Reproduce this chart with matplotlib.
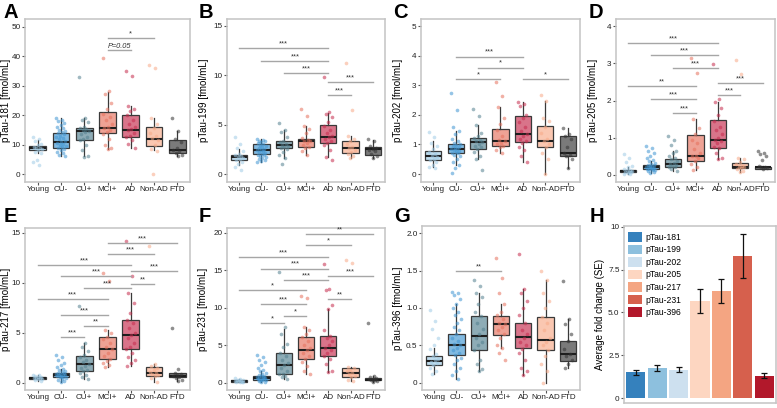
import numpy as np
import matplotlib.pyplot as plt
from matplotlib.colors import to_rgba
from matplotlib.patches import Patch

plt.rcParams['font.family'] = ['Liberation Sans', 'DejaVu Sans']

groups = ['Young', 'CU-', 'CU+', 'MCI+', 'AD', 'Non-AD', 'FTD']
group_colors = ['#9fcbe6', '#3f95d2', '#52808f', '#e6705c', '#c52a4c', '#f8a987', '#333333']

# box stats per group: (whisker low, q1, median, q3, whisker high)
box_181 = [(7, 8, 8.8, 9.6, 11.5), (6, 9, 11, 14, 19), (6, 11.5, 14.5, 15.7, 19),
           (8.5, 14, 15.5, 21, 28), (9, 12.5, 15, 20, 23), (8, 9.5, 12, 15.8, 19),
           (6, 7, 8, 11.5, 14.5)]
box_199 = [(0.9, 1.4, 1.7, 1.95, 2.5), (1.2, 2.0, 2.45, 3.0, 3.6), (1.6, 2.6, 2.9, 3.3, 4.5),
           (1.9, 2.7, 3.3, 3.6, 4.9), (1.7, 3.1, 3.8, 5.0, 6.2), (1.6, 2.1, 2.6, 3.4, 3.9),
           (1.6, 1.9, 2.5, 2.7, 3.5)]
box_202 = [(0.25, 0.48, 0.6, 0.78, 1.1), (0.3, 0.7, 0.83, 1.03, 1.45), (0.5, 0.85, 1.07, 1.23, 1.65),
           (0.7, 0.95, 1.1, 1.53, 2.28), (0.4, 1.08, 1.36, 1.97, 2.42), (0.0, 0.9, 1.1, 1.63, 2.48),
           (0.2, 0.6, 0.7, 1.3, 1.55)]
box_205 = [(0.02, 0.07, 0.1, 0.14, 0.2), (0.05, 0.15, 0.2, 0.26, 0.38), (0.1, 0.22, 0.3, 0.42, 0.65),
           (0.12, 0.37, 0.51, 1.08, 1.5), (0.42, 0.72, 0.95, 1.47, 1.95), (0.08, 0.18, 0.22, 0.32, 0.45),
           (0.15, 0.16, 0.2, 0.22, 0.25)]
box_217 = [(0.2, 0.4, 0.5, 0.6, 0.8), (0.1, 0.6, 0.8, 1.0, 1.4), (0.4, 1.2, 1.9, 2.7, 4.0),
           (1.6, 2.4, 3.4, 4.6, 5.3), (1.7, 3.4, 4.8, 6.3, 9.0), (0.05, 0.7, 1.0, 1.6, 1.9),
           (0.2, 0.55, 0.7, 0.95, 1.0)]
box_231 = [(0.05, 0.1, 0.2, 0.3, 0.5), (0.05, 0.3, 0.6, 0.9, 1.6), (0.5, 1.1, 2.4, 4.0, 7.1),
           (1.1, 3.2, 4.4, 6.1, 7.4), (1.4, 3.6, 4.6, 6.2, 9.8), (0.2, 0.7, 1.3, 1.9, 2.1),
           (0.1, 0.3, 0.4, 0.6, 0.9)]
box_396 = [(0.12, 0.24, 0.29, 0.35, 0.47), (0.05, 0.37, 0.5, 0.65, 1.05), (0.15, 0.43, 0.63, 0.89, 1.2),
           (0.47, 0.64, 0.79, 0.89, 1.05), (0.1, 0.47, 0.61, 0.8, 1.25), (0.0, 0.44, 0.57, 0.88, 1.38),
           (0.2, 0.29, 0.38, 0.56, 0.85)]

# individual points per group
pts_181 = [[12.5, 12, 11.2, 10.3, 9.8, 9.3, 9, 8.7, 8.4, 8.1, 7.6, 7, 4.6, 4.0, 3.0],
           [19, 18.5, 18, 17.2, 16.5, 16, 15.5, 15, 14.6, 14.2, 13.8, 13.5, 13, 12.5, 12.2, 11.8,
            11.3, 11, 10.7, 10.3, 10, 9.6, 9.2, 8.8, 8.4, 8, 7.5, 7, 6.5, 6.2],
           [33, 19, 18.3, 17.5, 16, 15.6, 15.2, 14.8, 14.5, 14.2, 13.5, 12.5, 11.8, 11.5, 10, 8.2, 6.2, 5.8],
           [39.5, 28.3, 27, 24, 22, 20.5, 19.5, 18.3, 17, 16, 15.5, 15, 14.2, 13.5, 12, 10, 9, 8.5],
           [35, 33.2, 23, 22, 21.5, 20, 18.5, 17, 16, 15.2, 14.8, 14, 13, 12.5, 11.5, 10.2, 9],
           [37, 36, 19, 17, 15.5, 14, 13, 12.2, 11.5, 10, 8.5, 7.8, 0],
           [19, 14.5, 12, 11, 9, 8.2, 7.8, 7, 6.5, 6]]
pts_199 = [[3.8, 3.0, 2.6, 2.3, 2.0, 1.9, 1.8, 1.7, 1.6, 1.5, 1.4, 1.2, 1.0, 0.7, 0.4],
           [3.6, 3.5, 3.4, 3.3, 3.2, 3.1, 3.0, 2.9, 2.8, 2.7, 2.6, 2.5, 2.45, 2.4, 2.3, 2.2, 2.1,
            2.0, 1.95, 1.9, 1.8, 1.7, 1.6, 1.5, 1.4, 1.3, 1.2],
           [5.2, 4.5, 4.3, 3.8, 3.4, 3.2, 3.0, 2.9, 2.85, 2.7, 2.6, 2.5, 2.2, 1.9, 1.6, 1.0],
           [6.6, 5.9, 4.9, 4.6, 4.2, 3.7, 3.5, 3.4, 3.3, 3.1, 2.9, 2.7, 2.6, 2.3, 1.9],
           [9.8, 6.3, 6.1, 5.8, 5.3, 4.9, 4.5, 4.2, 3.9, 3.8, 3.6, 3.4, 3.1, 2.9, 2.4, 1.7, 1.4],
           [11.2, 6.5, 3.9, 3.6, 3.3, 3.0, 2.7, 2.6, 2.4, 2.2, 2.0, 1.8, 1.6],
           [3.6, 3.3, 2.8, 2.6, 2.5, 2.4, 2.3, 2.0, 1.8, 1.6]]
pts_202 = [[1.42, 1.25, 1.05, 0.95, 0.85, 0.75, 0.68, 0.62, 0.58, 0.52, 0.48, 0.4, 0.3, 0.25, 0.2],
           [2.75, 2.15, 1.6, 1.45, 1.35, 1.2, 1.1, 1.05, 1.0, 0.98, 0.95, 0.9, 0.88, 0.85, 0.83, 0.8,
            0.78, 0.75, 0.72, 0.7, 0.65, 0.6, 0.5, 0.4, 0.3, 0.2, 0.05],
           [2.2, 1.95, 1.65, 1.4, 1.3, 1.22, 1.15, 1.1, 1.07, 1.0, 0.95, 0.9, 0.85, 0.75, 0.6, 0.5, 0.15],
           [3.1, 2.65, 2.28, 1.9, 1.7, 1.5, 1.3, 1.15, 1.1, 1.05, 1.0, 0.95, 0.9, 0.8, 0.7],
           [2.42, 2.38, 2.3, 2.0, 1.9, 1.75, 1.6, 1.45, 1.36, 1.3, 1.2, 1.1, 1.05, 0.9, 0.8, 0.6, 0.4],
           [2.68, 2.48, 1.9, 1.8, 1.6, 1.4, 1.2, 1.1, 1.0, 0.9, 0.7, 0.5, 0.0],
           [1.55, 1.35, 1.3, 1.2, 0.9, 0.7, 0.65, 0.6, 0.5, 0.2]]
pts_205 = [[0.55, 0.45, 0.35, 0.25, 0.2, 0.17, 0.14, 0.12, 0.1, 0.09, 0.08, 0.07, 0.05, 0.03, 0.02],
           [0.78, 0.72, 0.65, 0.58, 0.5, 0.45, 0.4, 0.37, 0.33, 0.3, 0.28, 0.26, 0.24, 0.22, 0.21,
            0.2, 0.19, 0.18, 0.17, 0.16, 0.15, 0.14, 0.12, 0.1, 0.08, 0.05],
           [1.05, 0.95, 0.8, 0.65, 0.6, 0.5, 0.45, 0.42, 0.38, 0.33, 0.3, 0.28, 0.25, 0.22, 0.2, 0.15, 0.1],
           [3.15, 2.75, 1.5, 1.25, 1.1, 0.95, 0.85, 0.7, 0.6, 0.52, 0.5, 0.45, 0.38, 0.3, 0.2, 0.12],
           [2.97, 2.05, 1.95, 1.8, 1.6, 1.45, 1.3, 1.2, 1.1, 1.0, 0.95, 0.9, 0.85, 0.75, 0.72, 0.6, 0.45, 0.42],
           [3.1, 2.7, 0.45, 0.42, 0.35, 0.3, 0.25, 0.22, 0.2, 0.18, 0.15, 0.1, 0.08],
           [0.65, 0.6, 0.55, 0.5, 0.4, 0.25, 0.22, 0.2, 0.18, 0.15]]
pts_217 = [[0.8, 0.75, 0.65, 0.6, 0.55, 0.5, 0.48, 0.45, 0.4, 0.35, 0.3, 0.2],
           [2.8, 2.6, 2.3, 2.0, 1.8, 1.6, 1.4, 1.3, 1.2, 1.1, 1.0, 0.95, 0.9, 0.85, 0.8, 0.78, 0.75,
            0.7, 0.65, 0.6, 0.55, 0.5, 0.4, 0.3, 0.2, 0.1],
           [7.7, 4.0, 3.6, 3.2, 2.8, 2.6, 2.3, 2.1, 1.9, 1.7, 1.5, 1.3, 1.2, 1.0, 0.8, 0.6, 0.4],
           [11.0, 10.2, 5.3, 5.0, 4.6, 4.4, 4.0, 3.6, 3.4, 3.0, 2.7, 2.4, 2.2, 2.0, 1.8, 1.6],
           [14.2, 10.7, 9.0, 8.0, 7.0, 6.3, 6.0, 5.5, 5.0, 4.8, 4.5, 4.0, 3.6, 3.4, 3.0, 2.6, 2.3, 2.0, 1.7],
           [13.7, 1.9, 1.7, 1.5, 1.3, 1.1, 1.0, 0.9, 0.8, 0.7, 0.5, 0.05],
           [5.5, 1.4, 1.0, 0.9, 0.8, 0.7, 0.6, 0.5, 0.3, 0.2]]
pts_231 = [[0.6, 0.5, 0.4, 0.35, 0.3, 0.25, 0.2, 0.18, 0.15, 0.12, 0.1, 0.05],
           [3.7, 3.4, 3.0, 2.7, 2.3, 2.0, 1.7, 1.5, 1.3, 1.1, 1.0, 0.9, 0.85, 0.8, 0.7, 0.65, 0.6,
            0.55, 0.5, 0.45, 0.4, 0.35, 0.3, 0.2, 0.1, 0.05],
           [14.7, 7.4, 6.5, 5.2, 4.8, 4.0, 3.5, 3.0, 2.6, 2.4, 2.0, 1.6, 1.2, 1.1, 0.9, 0.7, 0.5],
           [11.5, 11.3, 7.4, 7.0, 6.5, 6.1, 5.5, 5.0, 4.6, 4.4, 4.0, 3.5, 3.2, 2.8, 2.2, 1.6, 1.1],
           [15.8, 12.5, 12.4, 10.3, 9.8, 7.0, 6.2, 6.0, 5.5, 5.0, 4.6, 4.3, 4.0, 3.6, 3.2, 2.5, 1.5, 1.4],
           [16.3, 15.9, 2.1, 1.9, 1.7, 1.5, 1.3, 1.1, 0.9, 0.7, 0.4, 0.2],
           [8.0, 0.9, 0.7, 0.6, 0.5, 0.45, 0.4, 0.3, 0.2, 0.1]]
pts_396 = [[0.97, 0.82, 0.72, 0.6, 0.5, 0.45, 0.38, 0.35, 0.32, 0.3, 0.28, 0.26, 0.24, 0.2, 0.15, 0.12],
           [1.22, 1.2, 1.17, 1.12, 1.05, 1.0, 0.95, 0.9, 0.85, 0.8, 0.75, 0.7, 0.65, 0.6, 0.56, 0.52,
            0.5, 0.47, 0.44, 0.4, 0.37, 0.33, 0.3, 0.25, 0.2, 0.15, 0.1, 0.05],
           [1.38, 1.3, 1.2, 1.15, 1.05, 0.95, 0.89, 0.8, 0.72, 0.65, 0.6, 0.55, 0.5, 0.43, 0.3, 0.25, 0.18, 0.15],
           [1.67, 1.4, 1.2, 1.05, 0.95, 0.9, 0.85, 0.8, 0.78, 0.75, 0.7, 0.65, 0.6, 0.5, 0.47, 0.4, 0.3],
           [1.73, 1.25, 1.2, 1.1, 1.0, 0.9, 0.8, 0.7, 0.65, 0.6, 0.55, 0.5, 0.45, 0.4, 0.3, 0.2, 0.15, 0.1],
           [1.5, 1.38, 1.2, 1.1, 1.0, 0.88, 0.8, 0.7, 0.6, 0.55, 0.5, 0.44, 0.35, 0.25, 0.15, 0.0],
           [1.36, 0.85, 0.78, 0.65, 0.56, 0.45, 0.38, 0.35, 0.3, 0.25, 0.2]]

# significance brackets: (group from, group to, height, label)
sig_181 = [('MCI+', 'Non-AD', 46, '*'), ('MCI+', 'AD', 42, 'P=0.05')]
sig_199 = [('Young', 'AD', 12.8, '***'), ('CU-', 'AD', 11.4, '***'), ('CU+', 'AD', 10.2, '***'),
           ('AD', 'FTD', 9.3, '***'), ('AD', 'Non-AD', 8.0, '***')]
sig_202 = [('CU-', 'AD', 3.97, '***'), ('CU+', 'AD', 3.6, '*'), ('CU-', 'MCI+', 3.2, '*'),
           ('AD', 'FTD', 3.2, '*')]
sig_205 = [('Young', 'AD', 3.55, '***'), ('CU-', 'AD', 3.23, '***'), ('CU+', 'AD', 2.87, '***'),
           ('Young', 'MCI+', 2.39, '**'), ('CU-', 'MCI+', 2.03, '***'), ('CU+', 'MCI+', 1.66, '***'),
           ('AD', 'FTD', 2.46, '***'), ('AD', 'Non-AD', 2.15, '***')]
sig_217 = [('MCI+', 'FTD', 14.0, '***'), ('MCI+', 'Non-AD', 12.9, '***'), ('Young', 'AD', 11.8, '***'),
           ('CU-', 'AD', 10.7, '***'), ('AD', 'FTD', 11.2, '***'), ('CU+', 'AD', 9.5, '***'),
           ('AD', 'Non-AD', 9.9, '**'), ('Young', 'MCI+', 8.4, '***'), ('CU-', 'MCI+', 6.8, '***'),
           ('CU+', 'MCI+', 5.7, '**'), ('CU-', 'CU+', 4.6, '***')]
sig_231 = [('MCI+', 'FTD', 19.8, '**'), ('MCI+', 'Non-AD', 18.3, '*'), ('Young', 'AD', 16.7, '***'),
           ('CU-', 'AD', 15.2, '***'), ('CU+', 'AD', 13.7, '***'), ('AD', 'FTD', 14.2, '***'),
           ('Young', 'MCI+', 12.3, '*'), ('CU-', 'MCI+', 10.5, '***'), ('AD', 'Non-AD', 11.2, '**'),
           ('CU+', 'MCI+', 8.9, '*'), ('CU-', 'CU+', 8.0, '*')]
sig_396 = [('CU-', 'MCI+', 1.5, '**')]

# panel H
tau_sites = ['pTau-181', 'pTau-199', 'pTau-202', 'pTau-205', 'pTau-217', 'pTau-231', 'pTau-396']
fold_change = [1.5, 1.75, 1.65, 5.65, 6.25, 8.3, 1.3]
fold_se = [0.15, 0.18, 0.15, 0.7, 0.72, 1.3, 0.15]
site_colors = ['#3581bd', '#8dc0de', '#cde0ef', '#fdd6c1', '#f4a582', '#d6604d', '#b2182b']

W, H = 777, 408
fig = plt.figure(figsize=(W / 100, H / 100), dpi=100)


def add_ax(l, t, r, b, label_px):
    ax = fig.add_axes([l / W, 1 - b / H, (r - l) / W, (b - t) / H])
    ax._label_x = (label_px - l) / (r - l)
    return ax


def style_ax(ax):
    for s in ax.spines.values():
        s.set_color('#c4c4c4')
        s.set_linewidth(1.1)
    ax.tick_params(length=2.2, width=0.8, color='#555555', labelsize=5.9, pad=1.0,
                   labelcolor='#222222')
    ax.yaxis.set_label_coords(ax._label_x, 0.5)


def box_panel(ax, boxes, points, sig, ylim, yticks, ylabel):
    pos = np.arange(1, 8)
    stats = [dict(whislo=b[0], q1=b[1], med=b[2], q3=b[3], whishi=b[4], fliers=[]) for b in boxes]
    bp = ax.bxp(stats, positions=pos, widths=0.72, patch_artist=True, showfliers=False,
                showcaps=False,
                boxprops=dict(edgecolor='#3a3a3a', linewidth=0.9),
                medianprops=dict(color='#1e1e1e', linewidth=1.5),
                whiskerprops=dict(color='#3a3a3a', linewidth=0.9))
    for patch, c in zip(bp['boxes'], group_colors):
        patch.set_facecolor(to_rgba(c, 0.65))
    for i, (vals, c) in enumerate(zip(points, group_colors)):
        n = len(vals)
        jit = ((np.arange(n) * 0.618034) % 1 - 0.5) * 0.42
        ax.scatter(pos[i] + jit, vals, s=7, color=c, alpha=0.55, linewidths=0, zorder=3)
    for g1, g2, y, lab in sig:
        x1, x2 = groups.index(g1) + 1, groups.index(g2) + 1
        ax.plot([x1, x2], [y, y], color='#a6a6a6', lw=1, zorder=4)
        ax.annotate(lab, ((x1 + x2) / 2, y), xytext=(0, 0.5), textcoords='offset points',
                    ha='center', va='bottom', fontsize=5.3, color='#333333',
                    style='italic' if lab.startswith('P') else 'normal')
    ax.set_xlim(0.45, 7.55)
    ax.set_ylim(*ylim)
    ax.set_yticks(yticks)
    ax.set_xticks(pos)
    ax.set_xticklabels(groups)
    ax.set_ylabel(ylabel, fontsize=7)
    style_ax(ax)


axA = add_ax(25, 19, 190, 182, 11)
box_panel(axA, box_181, pts_181, sig_181, (-2.7, 52.6), [0, 10, 20, 30, 40, 50], 'pTau-181 [fmol/mL]')
axB = add_ax(227, 19, 385, 182, 209)
box_panel(axB, box_199, pts_199, sig_199, (-0.8, 15.7), [0, 5, 10, 15], 'pTau-199 [fmol/mL]')
axC = add_ax(421, 19, 580, 182, 403)
box_panel(axC, box_202, pts_202, sig_202, (-0.27, 5.24), [0, 1, 2, 3, 4, 5], 'pTau-202 [fmol/mL]')
axD = add_ax(616, 19, 775, 182, 598)
box_panel(axD, box_205, pts_205, sig_205, (-0.19, 4.19), [0, 1, 2, 3, 4], 'pTau-205 [fmol/mL]')
axE = add_ax(25, 228, 190, 390, 11)
box_panel(axE, box_217, pts_217, sig_217, (-0.73, 15.47), [0, 5, 10, 15], 'pTau-217 [fmol/mL]')
axF = add_ax(227, 228, 385, 390, 208)
box_panel(axF, box_231, pts_231, sig_231, (-0.97, 20.6), [0, 5, 10, 15, 20], 'pTau-231 [fmol/mL]')
axG = add_ax(422, 226, 580, 390, 403)
box_panel(axG, box_396, pts_396, sig_396, (-0.1, 2.1), [0, 0.5, 1.0, 1.5, 2.0], 'pTau-396 [fmol/mL]')
axG.set_yticklabels(['0', '0.5', '1.0', '1.5', '2.0'])

axH = add_ax(624, 226, 776, 403, 605)
xh = np.arange(1, 8)
axH.bar(xh, fold_change, width=0.9, color=site_colors, yerr=fold_se, capsize=2.5,
        error_kw=dict(ecolor='#111111', elinewidth=0.9, capthick=0.9))
axH.set_xlim(0.45, 7.55)
axH.set_ylim(-0.29, 10.04)
axH.set_yticks([0, 2.5, 5, 7.5, 10])
axH.set_yticklabels(['0', '2.5', '5.0', '7.5', '10'])
axH.set_xticks([])
axH.set_ylabel('Average fold change (SE)', fontsize=7)
style_ax(axH)
handles = [Patch(facecolor=c, edgecolor='none') for c in site_colors]
axH.legend(handles, tau_sites, loc='upper left', bbox_to_anchor=(0.0, 0.99), frameon=False,
           fontsize=6.2, handlelength=1.6, handleheight=1.35, labelspacing=0.33,
           handletextpad=0.35, borderaxespad=0.3, borderpad=0.2)

for lab, x, y in [('A', 4, 12), ('B', 199, 12), ('C', 393, 12), ('D', 589, 12),
                  ('E', 4, 217), ('F', 199, 217), ('G', 394, 217), ('H', 590, 216)]:
    fig.text(x / W, 1 - y / H, lab, fontsize=14.5, fontweight='bold', va='center', ha='left')

fig.savefig('out.png', dpi=100)
